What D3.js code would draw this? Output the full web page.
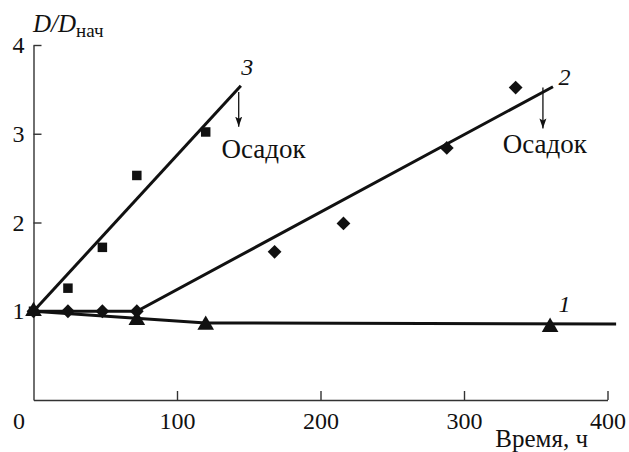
<!DOCTYPE html>
<html>
<head>
<meta charset="utf-8">
<script src="https://cdn.jsdelivr.net/npm/d3@7"></script>
<style>
  body { margin: 0; background: #fff; }
</style>
</head>
<body>
<svg id="chart" width="629" height="452"></svg>
<script>
// series 1 (triangles)
var t1 = [0, 72, 120, 360];
var v1 = [1.0, 0.9, 0.845, 0.82];
var fit1 = [[0, 1.0], [120, 0.868], [406, 0.855]];
// series 2 (diamonds)
var t2 = [0, 24, 48, 72, 168, 216, 288, 336];
var v2 = [1.0, 1.0, 1.0, 1.0, 1.67, 1.99, 2.84, 3.52];
var fit2 = [[0, 1.0], [72, 1.0], [362, 3.53]];
// series 3 (squares)
var t3 = [0, 24, 48, 72, 120];
var v3 = [1.0, 1.26, 1.72, 2.53, 3.02];
var fit3 = [[0, 1.0], [144.5, 3.54]];

var xTicks = [0, 100, 200, 300, 400];
var yTicks = [1, 2, 3, 4];

// curve numbers and precipitate notes (data units)
var curveLabels = [{t: 149, v: 3.76, s: "3"}, {t: 370, v: 3.64, s: "2"}, {t: 370, v: 1.09, s: "1"}];
var arrows = [{t: 143, v0: 3.47, v1: 3.08}, {t: 355, v0: 3.52, v1: 3.06}];
var notes = [{t: 131, v: 2.73, s: "Осадок"}, {t: 327, v: 2.78, s: "Осадок"}];

var FONT = "'Liberation Serif', 'Times New Roman', 'DejaVu Serif', serif";

var svg = d3.select("#chart");

var x = d3.scaleLinear().domain([0, 400]).range([33.5, 607.5]);
var y = d3.scaleLinear().domain([0, 4]).range([400, 45]);

svg.append("defs").append("marker")
    .attr("id", "arr")
    .attr("viewBox", "0 0 10 10")
    .attr("refX", 10).attr("refY", 5)
    .attr("markerWidth", 10).attr("markerHeight", 10)
    .attr("markerUnits", "userSpaceOnUse")
    .attr("orient", "auto")
    .append("path")
    .attr("d", "M0,1.5 L10,5 L0,8.5 L2,5 Z")
    .attr("fill", "#111");

// axes
var xAxis = d3.axisBottom(x).tickValues(xTicks).tickFormat(d3.format("d"))
    .tickSizeInner(-9).tickSizeOuter(0).tickPadding(12);
var gx = svg.append("g").attr("transform", "translate(0," + y(0) + ")").call(xAxis);
gx.selectAll(".tick").filter(function(d) { return d === 0; }).select("text").attr("x", -15);
gx.selectAll(".tick").filter(function(d) { return d === 0; }).select("line").remove();

var yAxis = d3.axisLeft(y).tickValues(yTicks).tickFormat(d3.format("d"))
    .tickSizeInner(-8).tickSizeOuter(0).tickPadding(9);
var gy = svg.append("g").attr("transform", "translate(" + x(0) + ",0)").call(yAxis);

svg.selectAll(".tick text").attr("font-family", null)
    .style("font-family", FONT).style("font-size", "24px").attr("fill", "#111");
svg.selectAll(".domain, .tick line").attr("stroke", "#333").attr("stroke-width", 1.4);

// axis titles
var yt = svg.append("text").attr("x", 33).attr("y", 32)
    .style("font-family", FONT).style("font-size", "25px").attr("fill", "#111");
yt.append("tspan").style("font-style", "italic").text("D/D");
yt.append("tspan").attr("dy", 5).style("font-size", "19px").text("нач");

svg.append("text").attr("x", 588).attr("y", 447).attr("text-anchor", "end")
    .style("font-family", FONT).style("font-size", "25px").attr("fill", "#111").text("Время, ч");

// fitted lines
var line = d3.line().x(function(d) { return x(d[0]); }).y(function(d) { return y(d[1]); });
[fit1, fit2, fit3].forEach(function(f) {
    svg.append("path").datum(f)
        .attr("d", line)
        .attr("fill", "none")
        .attr("stroke", "#111")
        .attr("stroke-width", 3);
});

// markers
function pts(ts, vs) { return ts.map(function(t, i) { return [t, vs[i]]; }); }

svg.selectAll(".tri").data(pts(t1, v1)).enter().append("path")
    .attr("d", d3.symbol().type(d3.symbolTriangle).size(120))
    .attr("transform", function(d) { return "translate(" + x(d[0]) + "," + y(d[1]) + ")"; })
    .attr("fill", "#111");

svg.selectAll(".dia").data(pts(t2, v2)).enter().append("path")
    .attr("d", d3.symbol().type(d3.symbolSquare).size(95))
    .attr("transform", function(d) { return "translate(" + x(d[0]) + "," + y(d[1]) + ") rotate(45)"; })
    .attr("fill", "#111");

svg.selectAll(".sq").data(pts(t3, v3)).enter().append("path")
    .attr("d", d3.symbol().type(d3.symbolSquare).size(90))
    .attr("transform", function(d) { return "translate(" + x(d[0]) + "," + y(d[1]) + ")"; })
    .attr("fill", "#111");

// annotations
svg.selectAll(".arrow").data(arrows).enter().append("line")
    .attr("x1", function(d) { return x(d.t); })
    .attr("x2", function(d) { return x(d.t); })
    .attr("y1", function(d) { return y(d.v0); })
    .attr("y2", function(d) { return y(d.v1); })
    .attr("stroke", "#111").attr("stroke-width", 1.3)
    .attr("marker-end", "url(#arr)");

svg.selectAll(".note").data(notes).enter().append("text")
    .attr("x", function(d) { return x(d.t); })
    .attr("y", function(d) { return y(d.v); })
    .style("font-family", FONT).style("font-size", "27px").attr("fill", "#111")
    .text(function(d) { return d.s; });

svg.selectAll(".cl").data(curveLabels).enter().append("text")
    .attr("x", function(d) { return x(d.t); })
    .attr("y", function(d) { return y(d.v); })
    .attr("text-anchor", "middle")
    .attr("dy", "0.35em")
    .style("font-family", FONT).style("font-size", "24px").style("font-style", "italic")
    .attr("fill", "#111")
    .text(function(d) { return d.s; });
</script>
</body>
</html>
